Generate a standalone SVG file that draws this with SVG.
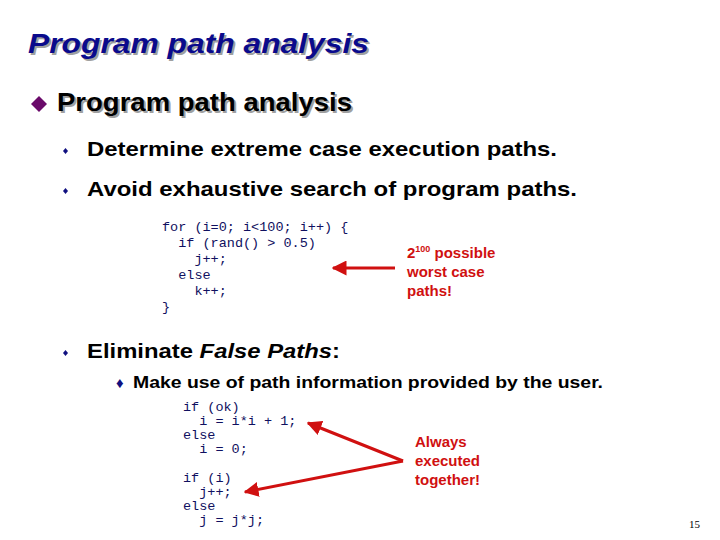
<svg xmlns="http://www.w3.org/2000/svg" width="720" height="540" viewBox="0 0 720 540">
<defs>
<marker id="ah" viewBox="0 0 10 10" refX="9" refY="5" markerWidth="5" markerHeight="5" orient="auto"><path d="M0,0 L10,5 L0,10 z" fill="#d01010"/></marker>
<style>
.t{font-family:"Liberation Sans",Arial,sans-serif;font-weight:bold}
.c{font-family:"Liberation Mono","Courier New",monospace;font-size:13.5px;fill:#101060}
.r{font-family:"Liberation Sans",Arial,sans-serif;font-weight:bold;font-size:15px;fill:#d01010}
.ln{stroke:#d01010;stroke-width:3;fill:none;marker-end:url(#ah)}
</style>
</defs>
<rect width="720" height="540" fill="#fff"/>
<g id="title">
<text x="30" y="55" class="t" font-style="italic" font-size="28" fill="#a0a0a0" textLength="341" lengthAdjust="spacingAndGlyphs">Program path analysis</text>
<text x="28" y="53" class="t" font-style="italic" font-size="28" fill="#0a0a8c" textLength="341" lengthAdjust="spacingAndGlyphs">Program path analysis</text>
</g>
<g id="bullet1">
<path d="M31,104 L39,96 L47,104 L39,112 z" fill="#6a0a6a"/>
<text x="59" y="113" class="t" font-size="26" fill="#a0a0a0" textLength="295" lengthAdjust="spacingAndGlyphs">Program path analysis</text>
<text x="57" y="111" class="t" font-size="26" fill="#000" textLength="295" lengthAdjust="spacingAndGlyphs">Program path analysis</text>
</g>
<g id="sub1">
<path d="M63,151 L65.5,148 L68,151 L65.5,154 z" fill="#101080"/>
<text x="87" y="156" class="t" font-size="21" textLength="470" lengthAdjust="spacingAndGlyphs">Determine extreme case execution paths.</text>
<path d="M63,191 L65.5,188 L68,191 L65.5,194 z" fill="#101080"/>
<text x="87" y="196" class="t" font-size="21" textLength="490" lengthAdjust="spacingAndGlyphs">Avoid exhaustive search of program paths.</text>
</g>
<g id="code1" class="c">
<text x="162" y="231" xml:space="preserve">for (i=0; i&lt;100; i++) {</text>
<text x="162" y="247" xml:space="preserve">  if (rand() &gt; 0.5)</text>
<text x="162" y="263" xml:space="preserve">    j++;</text>
<text x="162" y="279" xml:space="preserve">  else</text>
<text x="162" y="295" xml:space="preserve">    k++;</text>
<text x="162" y="311" xml:space="preserve">}</text>
</g>
<g id="note1" class="r">
<text x="407" y="258">2<tspan font-size="9" dy="-6">100</tspan><tspan dy="6"> possible</tspan></text>
<text x="407" y="277">worst case</text>
<text x="407" y="296">paths!</text>
</g>
<g id="sub2">
<path d="M63,353 L65.5,350 L68,353 L65.5,356 z" fill="#101080"/>
<text x="87" y="358" class="t" font-size="21" textLength="253" lengthAdjust="spacingAndGlyphs">Eliminate <tspan font-style="italic">False Paths</tspan>:</text>
<text x="116" y="388" class="t" font-size="15" fill="#101080">♦</text>
<text x="133" y="388" class="t" font-size="17" textLength="470" lengthAdjust="spacingAndGlyphs">Make use of path information provided by the user.</text>
</g>
<g id="code2" class="c">
<text x="183" y="411" xml:space="preserve">if (ok)</text>
<text x="183" y="425" xml:space="preserve">  i = i*i + 1;</text>
<text x="183" y="439" xml:space="preserve">else</text>
<text x="183" y="453" xml:space="preserve">  i = 0;</text>
<text x="183" y="482" xml:space="preserve">if (i)</text>
<text x="183" y="496" xml:space="preserve">  j++;</text>
<text x="183" y="510" xml:space="preserve">else</text>
<text x="183" y="524" xml:space="preserve">  j = j*j;</text>
</g>
<g id="note2" class="r">
<text x="415" y="447">Always</text>
<text x="415" y="466">executed</text>
<text x="415" y="485">together!</text>
</g>
<g id="connectors">
<line x1="395" y1="268" x2="333" y2="268" class="ln"/>
<line x1="403" y1="461" x2="308" y2="423" class="ln"/>
<line x1="403" y1="461" x2="245" y2="492" class="ln"/>
</g>
<text x="689" y="528" font-family="Liberation Serif,serif" font-size="11">15</text>
</svg>
